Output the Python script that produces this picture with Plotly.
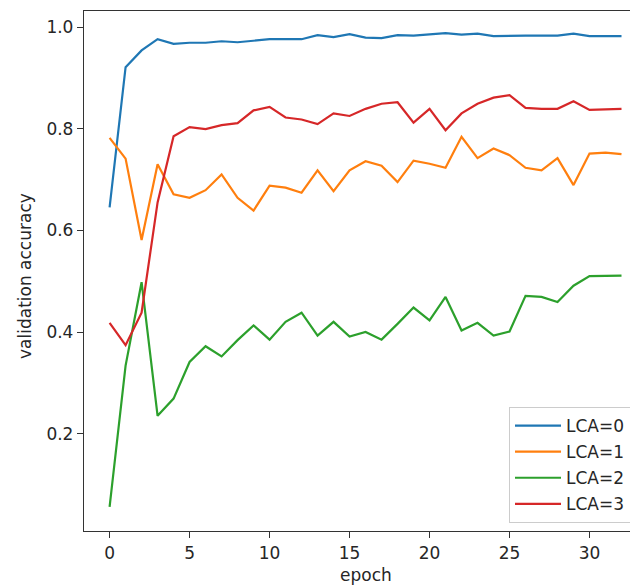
import plotly.graph_objects as go

epochs = list(range(33))

lca0 = [0.645, 0.921, 0.954, 0.976, 0.967, 0.969, 0.969, 0.972, 0.970, 0.973,
        0.976, 0.976, 0.976, 0.984, 0.980, 0.986, 0.979, 0.978, 0.984, 0.983,
        0.985, 0.988, 0.985, 0.987, 0.982, 0.983, 0.983, 0.983, 0.983, 0.987,
        0.982, 0.982, 0.982]
lca1 = [0.782, 0.741, 0.581, 0.730, 0.671, 0.664, 0.679, 0.710, 0.664, 0.639,
        0.688, 0.684, 0.674, 0.718, 0.677, 0.718, 0.736, 0.727, 0.695, 0.737,
        0.731, 0.723, 0.784, 0.742, 0.761, 0.748, 0.723, 0.718, 0.742, 0.689,
        0.751, 0.753, 0.750]
lca2 = [0.056, 0.334, 0.498, 0.235, 0.269, 0.341, 0.372, 0.352, 0.384, 0.413,
        0.385, 0.420, 0.438, 0.393, 0.420, 0.391, 0.400, 0.385, 0.416, 0.448,
        0.423, 0.469, 0.403, 0.418, 0.393, 0.401, 0.471, 0.469, 0.459, 0.491,
        0.510, 0.510, 0.511]
lca3 = [0.418, 0.374, 0.438, 0.655, 0.785, 0.803, 0.799, 0.807, 0.811, 0.836,
        0.843, 0.822, 0.818, 0.809, 0.830, 0.825, 0.839, 0.849, 0.852, 0.812,
        0.839, 0.797, 0.830, 0.849, 0.861, 0.866, 0.841, 0.839, 0.839, 0.854,
        0.837, 0.838, 0.839]

series = [("LCA=0", lca0, "#1f77b4"),
          ("LCA=1", lca1, "#ff7f0e"),
          ("LCA=2", lca2, "#2ca02c"),
          ("LCA=3", lca3, "#d62728")]

x_ticks = [0, 5, 10, 15, 20, 25, 30]
y_ticks = [0.2, 0.4, 0.6, 0.8, 1.0]
y_tick_labels = ["0.2", "0.4", "0.6", "0.8", "1.0"]

FONT = "DejaVu Sans"
FS = 17
TXT = "#262626"
AX = "#333333"

fig = go.Figure()
for name, vals, color in series:
    fig.add_trace(go.Scatter(x=epochs, y=vals, mode="lines", name=name,
                             legendgroup=name,
                             line=dict(color=color, width=2.2)))

# the page body has an 8px default margin, so the figure is shifted by 8px
OFF = 8
W, H = 638 - OFF, 586 - OFF
ml, mt = 84 - OFF, 11 - OFF
plot_bottom = 531 - OFF
mb = H - plot_bottom
pw, ph = W - ml, plot_bottom - mt

fig.update_layout(
    width=W, height=H,
    margin=dict(l=ml, r=0, t=mt, b=mb, pad=0),
    paper_bgcolor="white", plot_bgcolor="white",
    font=dict(family=FONT, size=FS, color=TXT),
    showlegend=True,
    legend=dict(x=(509 - 84) / pw, xanchor="left",
                y=(531 - 523) / ph, yanchor="bottom",
                bordercolor="#cccccc", borderwidth=1, bgcolor="rgba(255,255,255,0.8)",
                font=dict(family=FONT, size=FS, color=TXT),
                tracegroupgap=1, itemwidth=46),
    xaxis=dict(range=[-1.6, (638 - 109.5) / 16.0], tickvals=x_ticks,
               showgrid=False, zeroline=False,
               showline=True, linecolor=AX, linewidth=1.3, mirror=True,
               ticks="outside", ticklen=6, tickwidth=1.3, tickcolor=AX,
               tickfont=dict(family=FONT, size=FS, color=TXT)),
    yaxis=dict(range=[0.0085, 1.0315], tickvals=y_ticks, ticktext=y_tick_labels,
               showgrid=False, zeroline=False,
               showline=True, linecolor=AX, linewidth=1.3, mirror=False,
               ticks="outside", ticklen=6, tickwidth=1.3, tickcolor=AX,
               tickfont=dict(family=FONT, size=FS, color=TXT)),
    annotations=[
        dict(text="epoch", xref="paper", yref="paper",
             x=(365.5 - 84) / pw, y=-(575 - 531) / ph,
             xanchor="center", yanchor="middle", showarrow=False,
             font=dict(family=FONT, size=FS, color=TXT)),
        dict(text="validation accuracy", xref="paper", yref="paper",
             x=-(84 - 25) / pw, y=(531 - 276) / ph, textangle=-90,
             xanchor="center", yanchor="middle", showarrow=False,
             font=dict(family=FONT, size=FS, color=TXT)),
    ],
)

fig.write_html("out.html")
